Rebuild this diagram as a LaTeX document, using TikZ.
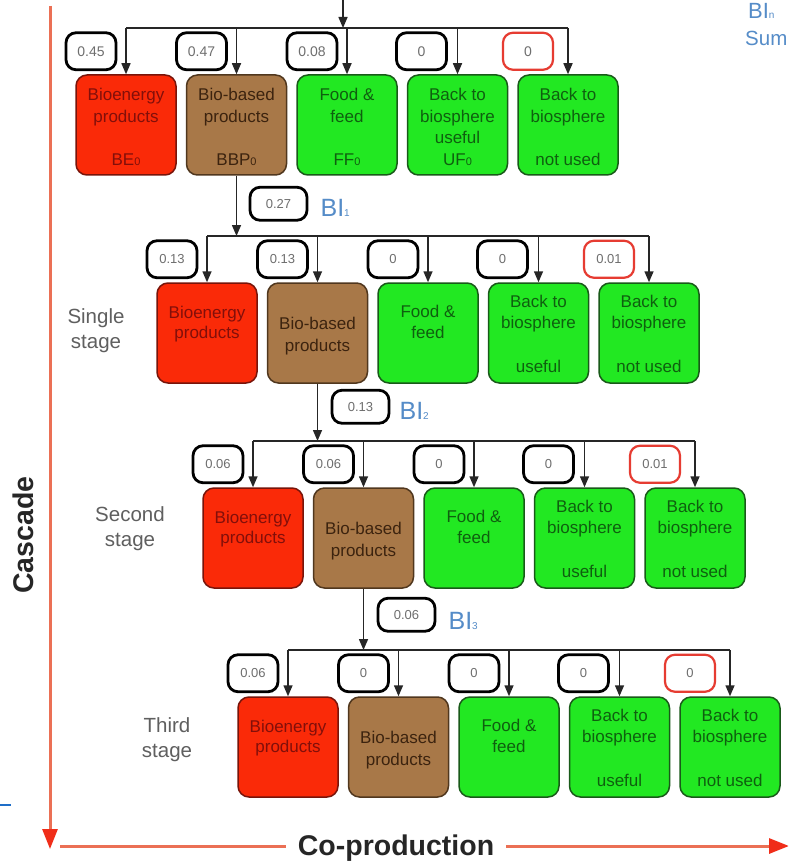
\documentclass[tikz,border=0pt]{standalone}
\usepackage{fontspec}
\setmainfont{Liberation Sans}
\usetikzlibrary{arrows.meta,calc}

\newcommand\fs[2]{\fontsize{#1}{#2}\selectfont}

\definecolor{bioEfill}{RGB}{250,42,8}
\definecolor{bioEline}{RGB}{120,20,10}
\definecolor{bioEtext}{RGB}{130,15,10}
\definecolor{bioBfill}{RGB}{168,120,72}
\definecolor{bioBline}{RGB}{80,55,30}
\definecolor{bioBtext}{RGB}{60,35,15}
\definecolor{greenfill}{RGB}{34,232,34}
\definecolor{greenline}{RGB}{25,90,25}
\definecolor{greentext}{RGB}{15,95,15}
\definecolor{labgray}{RGB}{110,110,110}
\definecolor{lostred}{RGB}{230,60,50}
\definecolor{biblue}{RGB}{85,140,200}
\definecolor{axisline}{RGB}{235,112,85}
\definecolor{axistipred}{RGB}{240,45,25}
\definecolor{stagegray}{RGB}{95,95,95}
\definecolor{edgeblue}{RGB}{30,110,200}

% one stage: five product boxes, their share labels, the bus and the arrows
% #1 id, #2 top y, #3 left x, #4-#8 share values, #9 extra label style
\newcommand\stagerow[9]{%
  \node[ebox] (e#1) at ({#3+50},{#2+50}) {};
  \node[bbox] (b#1) at ({#3+160.5},{#2+50}) {};
  \node[gbox] (f#1) at ({#3+271},{#2+50}) {};
  \node[gbox] (u#1) at ({#3+381.5},{#2+50}) {};
  \node[gbox] (n#1) at ({#3+492},{#2+50}) {};
  \coordinate (bus#1) at ({#3+50},{#2-47});
  \draw[bus] (e#1.north |- bus#1) -- (n#1.north |- bus#1);
  \foreach \k in {e,b,f,u,n}{\draw[flow] (\k#1.north |- bus#1) -- (\k#1.north);}
  \node[share,#9] (se#1) at ($(e#1.north)+(-35,-23)$) {#4};
  \node[share,#9] (sb#1) at ($(b#1.north)+(-35,-23)$) {#5};
  \node[share,#9] (sf#1) at ($(f#1.north)+(-35,-23)$) {#6};
  \node[share,#9] (su#1) at ($(u#1.north)+(-36,-23)$) {#7};
  \node[share,lost,#9] (sn#1) at ($(n#1.north)+(-40,-23)$) {#8};
}

% box captions of the later stages
\newcommand\stagetext[1]{%
  \node[etxt] (e#1a) at ($(e#1.north)+(0,30)$) {Bioenergy};
  \node[etxt] (e#1b) at ($(e#1.north)+(0,50)$) {products};
  \node[btxt] (b#1a) at ($(b#1.north)+(0,41)$) {Bio-based};
  \node[btxt] (b#1b) at ($(b#1.north)+(0,63)$) {products};
  \node[gtxt] (f#1a) at ($(f#1.north)+(0,29)$) {Food \&};
  \node[gtxt] (f#1b) at ($(f#1.north)+(0,50)$) {feed};
  \node[gtxt] (u#1a) at ($(u#1.north)+(0,19)$) {Back to};
  \node[gtxt] (u#1b) at ($(u#1.north)+(0,40)$) {biosphere};
  \node[gtxt] (u#1c) at ($(u#1.north)+(0,84)$) {useful};
  \node[gtxt] (n#1a) at ($(n#1.north)+(0,19)$) {Back to};
  \node[gtxt] (n#1b) at ($(n#1.north)+(0,40)$) {biosphere};
  \node[gtxt] (n#1c) at ($(n#1.north)+(0,84)$) {not used};
}

\begin{document}
\begin{tikzpicture}[x=1pt,y=-1pt,
  prod/.style={line width=1.5pt, rounded corners=11pt, minimum width=100pt,
    minimum height=100pt, inner sep=0pt},
  ebox/.style={prod, fill=bioEfill, draw=bioEline},
  bbox/.style={prod, fill=bioBfill, draw=bioBline},
  gbox/.style={prod, fill=greenfill, draw=greenline},
  txt/.style={inner sep=0pt, text height=12pt, text depth=0pt, font=\fs{17}{17}},
  etxt/.style={txt, text=bioEtext},
  btxt/.style={txt, text=bioBtext},
  gtxt/.style={txt, text=greentext},
  share/.style={draw=black, line width=2.8pt, rounded corners=10pt,
    minimum width=50pt, minimum height=37pt, inner sep=0pt, fill=white,
    text=labgray, font=\fs{13}{13}},
  lost/.style={draw=lostred, line width=2.2pt},
  inshare/.style={share, minimum width=57pt, minimum height=33pt},
  flow/.style={draw=black!85, line width=1.5pt, -{Triangle[length=11pt,width=9pt]}},
  bus/.style={draw=black!85, line width=1.5pt},
  bilab/.style={text=biblue, font=\fs{25}{25}, inner sep=0pt, text height=18pt,
    text depth=0pt, anchor=west},
  stage/.style={text=stagegray, font=\fs{20.5}{25}, align=center, inner sep=0pt},
  axis/.style={draw=axisline, line width=3pt},
  axistip/.style={-{Triangle[length=20pt,width=15pt,color=axistipred]}},
  title/.style={font=\bfseries\fs{28.5}{28.5}, text=black!85, inner ysep=0pt,
    inner xsep=12pt}
]
\useasboundingbox (0,0) rectangle (788,861);
\clip (0,0) rectangle (788,861);
\fill[white] (0,0) rectangle (788,861);

% the four stages
\stagerow{0}{75}{76}{0.45}{0.47}{0.08}{0}{0}{font=\fs{14}{14}}
\stagerow{1}{283}{157}{0.13}{0.13}{0}{0}{0.01}{}
\stagerow{2}{488}{203}{0.06}{0.06}{0}{0}{0.01}{}
\stagerow{3}{697}{238}{0.06}{0}{0}{0}{0}{}

% captions of the first stage
\node[etxt] (e0a) at ($(e0.north)+(0,20)$) {Bioenergy};
\node[etxt] (e0b) at ($(e0.north)+(0,42)$) {products};
\node[etxt] (e0c) at ($(e0.north)+(0,85)$) {BE{\fs{11}{11}0}};
\node[btxt] (b0a) at ($(b0.north)+(0,20)$) {Bio-based};
\node[btxt] (b0b) at ($(b0.north)+(0,42)$) {products};
\node[btxt] (b0c) at ($(b0.north)+(0,85)$) {BBP{\fs{11}{11}0}};
\node[gtxt] (f0a) at ($(f0.north)+(0,20)$) {Food \&};
\node[gtxt] (f0b) at ($(f0.north)+(0,42)$) {feed};
\node[gtxt] (f0c) at ($(f0.north)+(0,85)$) {FF{\fs{11}{11}0}};
\node[gtxt] (u0a) at ($(u0.north)+(0,20)$) {Back to};
\node[gtxt] (u0b) at ($(u0.north)+(0,42)$) {biosphere};
\node[gtxt] (u0c) at ($(u0.north)+(0,63)$) {useful};
\node[gtxt] (u0d) at ($(u0.north)+(0,85)$) {UF{\fs{11}{11}0}};
\node[gtxt] (n0a) at ($(n0.north)+(0,20)$) {Back to};
\node[gtxt] (n0b) at ($(n0.north)+(0,42)$) {biosphere};
\node[gtxt] (n0c) at ($(n0.north)+(0,85)$) {not used};

\stagetext{1}
\stagetext{2}
\stagetext{3}

% flows passed on from one stage to the next
\coordinate (src) at (343,-12);
\draw[flow] (src) -- (src |- bus0);
\draw[flow] (b0.south) -- (b0.south |- bus1);
\draw[flow] (b1.south) -- (b1.south |- bus2);
\draw[flow] (b2.south) -- (b2.south |- bus3);

\node[inshare] (s1in) at ($(b0.south)+(42,28)$) {0.27};
\node[bilab] (bi1) at ($(s1in.east)+(12,4)$) {BI{\fs{10}{10}1}};
\node[inshare] (s2in) at ($(b1.south)+(43,23)$) {0.13};
\node[bilab] (bi2) at ($(s2in.east)+(9,4)$) {BI{\fs{10}{10}2}};
\node[inshare] (s3in) at ($(b2.south)+(43,26)$) {0.06};
\node[bilab] (bi3) at ($(s3in.east)+(12,6)$) {BI{\fs{10}{10}3}};

% sum in the upper right corner
\node[bilab, anchor=base west, font=\fs{22}{22}, text height=16pt] (bin) at (748,19) {BI{\fs{10}{10}n}};
\node[bilab, anchor=base west, font=\fs{20.5}{20.5}, text height=15pt] (sumlab) at (745,46) {Sum};

% stage names
\node[stage] (st1) at (96,331) {Single\\stage};
\node[stage] (st2) at (130,529) {Second\\stage};
\node[stage] (st3) at (167,740) {Third\\stage};

% axes
\coordinate (vtop) at (50,6);
\coordinate (vend) at (50,849);
\draw[axis, axistip] (vtop) -- (vend);
\node[title, anchor=base] (coprod) at (396,855) {Co-production};
\coordinate (hstart) at (60,846);
\coordinate (hend) at (789,846);
\draw[axis] (hstart) -- (coprod.west |- hstart);
\draw[axis, axistip] (coprod.east |- hend) -- (hend);
\node[title, rotate=90] (cascade) at (23,535) {Cascade};

% short blue mark at the left edge
\draw[edgeblue, line width=2pt] (0,805) -- (11,805);
\end{tikzpicture}
\end{document}
